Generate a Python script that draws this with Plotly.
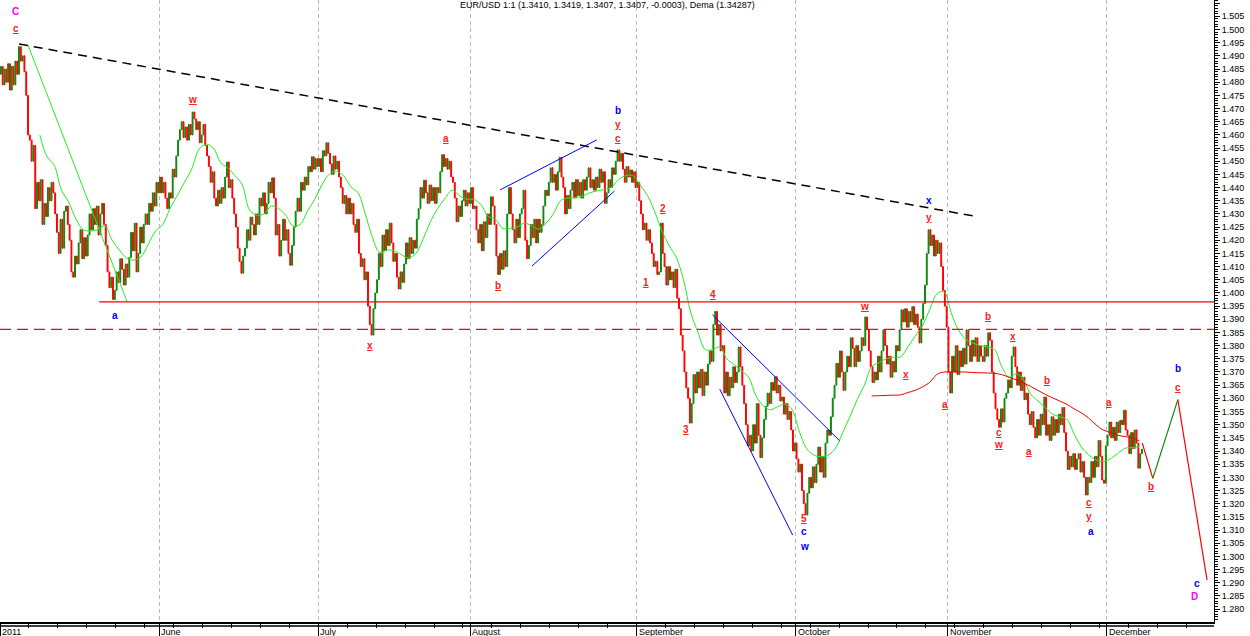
import pandas as pd
import plotly.graph_objects as go

# 6-hour closes, four per trading day
may_close = [1.4860, 1.4790, 1.4850, 1.4800, 1.4870, 1.4770, 1.4860, 1.4790,
             1.4880, 1.4830, 1.4935, 1.4880, 1.4900, 1.4840, 1.4750, 1.4600,
             1.4580, 1.4500, 1.4560, 1.4320, 1.4420, 1.4350, 1.4430, 1.4260,
             1.4340, 1.4290, 1.4400, 1.4350, 1.4420, 1.4380, 1.4300, 1.4230,
             1.4150, 1.4280, 1.4170, 1.4310, 1.4330, 1.4260, 1.4200, 1.4080,
             1.4060, 1.4140, 1.4110, 1.4190, 1.4240, 1.4130, 1.4210, 1.4140,
             1.4220, 1.4300, 1.4240, 1.4320, 1.4260, 1.4330, 1.4220, 1.4300,
             1.4340, 1.4260, 1.4180, 1.4080, 1.4020, 1.4060, 1.3975, 1.4010,
             1.4080, 1.4040, 1.4130, 1.4090, 1.4030, 1.4110, 1.4060, 1.4135,
             1.4230, 1.4160, 1.4265, 1.4080, 1.4150, 1.4250, 1.4190, 1.4260,
             1.4300, 1.4260, 1.4340, 1.4310, 1.4380, 1.4330, 1.4420, 1.4380]
jun_close = [1.4440, 1.4380, 1.4420, 1.4360, 1.4320, 1.4380, 1.4360, 1.4470,
             1.4440, 1.4520, 1.4580, 1.4620, 1.4650, 1.4590, 1.4630, 1.4580,
             1.4640, 1.4600, 1.4687, 1.4660, 1.4620, 1.4650, 1.4570, 1.4600,
             1.4640, 1.4560, 1.4520, 1.4480, 1.4420, 1.4460, 1.4360, 1.4330,
             1.4390, 1.4340, 1.4400, 1.4360, 1.4440, 1.4497, 1.4400, 1.4430,
             1.4360, 1.4300, 1.4250, 1.4170, 1.4120, 1.4075, 1.4140, 1.4170,
             1.4240, 1.4200, 1.4288, 1.4260, 1.4220, 1.4300, 1.4260, 1.4360,
             1.4330, 1.4380, 1.4300, 1.4340, 1.4420, 1.4380, 1.4437, 1.4360,
             1.4220, 1.4260, 1.4140, 1.4200, 1.4280, 1.4200, 1.4240, 1.4150,
             1.4105, 1.4180, 1.4250, 1.4310, 1.4360, 1.4310, 1.4420, 1.4390,
             1.4440, 1.4410, 1.4480, 1.4460, 1.4517, 1.4470, 1.4510, 1.4480]
jul_close = [1.4510, 1.4460, 1.4540, 1.4520, 1.4570, 1.4530, 1.4490, 1.4450,
             1.4520, 1.4470, 1.4500, 1.4440, 1.4400, 1.4340, 1.4370, 1.4300,
             1.4360, 1.4300, 1.4340, 1.4260, 1.4230, 1.4280, 1.4150, 1.4100,
             1.4130, 1.4050, 1.4080, 1.3950, 1.3880, 1.3840, 1.3940, 1.4000,
             1.4050, 1.4150, 1.4100, 1.4220, 1.4160, 1.4240, 1.4180, 1.4265,
             1.4190, 1.4120, 1.4150, 1.4060, 1.4015, 1.4080, 1.4040, 1.4110,
             1.4190, 1.4130, 1.4210, 1.4150, 1.4200, 1.4170, 1.4280, 1.4320,
             1.4400, 1.4360, 1.4428, 1.4380, 1.4340, 1.4410, 1.4350, 1.4400,
             1.4340, 1.4400, 1.4380, 1.4460, 1.4525, 1.4480, 1.4510, 1.4470,
             1.4500, 1.4440, 1.4420, 1.4360, 1.4270, 1.4330, 1.4290, 1.4350,
             1.4390, 1.4330, 1.4380, 1.4340]
aug_close = [1.4400, 1.4320, 1.4330, 1.4240, 1.4190, 1.4260, 1.4160, 1.4270,
             1.4210, 1.4300, 1.4260, 1.4365, 1.4330, 1.4260, 1.4140, 1.4070,
             1.4150, 1.4090, 1.4160, 1.4100, 1.4300, 1.4400, 1.4300, 1.4240,
             1.4190, 1.4280, 1.4210, 1.4300, 1.4320, 1.4390, 1.4200, 1.4130,
             1.4180, 1.4260, 1.4210, 1.4280, 1.4190, 1.4280, 1.4230, 1.4260,
             1.4330, 1.4390, 1.4370, 1.4420, 1.4475, 1.4420, 1.4450, 1.4390,
             1.4460, 1.4515, 1.4440, 1.4400, 1.4300, 1.4370, 1.4320, 1.4390,
             1.4420, 1.4360, 1.4430, 1.4370, 1.4420, 1.4360, 1.4430, 1.4390,
             1.4440, 1.4475, 1.4400, 1.4430, 1.4390, 1.4440, 1.4400, 1.4470,
             1.4420, 1.4460, 1.4340, 1.4380, 1.4430, 1.4400, 1.4475, 1.4450,
             1.4500, 1.4543, 1.4500, 1.4530, 1.4470, 1.4420, 1.4480, 1.4440,
             1.4467, 1.4420, 1.4460, 1.4400]
sep_close = [1.4420, 1.4350, 1.4300, 1.4240, 1.4265, 1.4200, 1.4240, 1.4190,
             1.4150, 1.4100, 1.4120, 1.4070, 1.4080, 1.4265, 1.4150, 1.4100,
             1.4030, 1.4100, 1.4050, 1.4080, 1.4020, 1.4090, 1.3980, 1.3940,
             1.3840, 1.3780, 1.3700, 1.3640, 1.3600, 1.3506, 1.3580, 1.3690,
             1.3620, 1.3700, 1.3640, 1.3710, 1.3610, 1.3700, 1.3650, 1.3730,
             1.3780, 1.3740, 1.3880, 1.3930, 1.3840, 1.3880, 1.3780, 1.3800,
             1.3620, 1.3700, 1.3610, 1.3680, 1.3640, 1.3720, 1.3660, 1.3700,
             1.3795, 1.3720, 1.3650, 1.3580, 1.3500, 1.3420, 1.3460, 1.3400,
             1.3500, 1.3430, 1.3580, 1.3460, 1.3375, 1.3450, 1.3520, 1.3570,
             1.3620, 1.3580, 1.3660, 1.3630, 1.3682, 1.3620, 1.3650, 1.3590,
             1.3605, 1.3540, 1.3580, 1.3520, 1.3550, 1.3480, 1.3400, 1.3430]
oct_close = [1.3370, 1.3320, 1.3350, 1.3250, 1.3200, 1.3157, 1.3240, 1.3300,
             1.3260, 1.3340, 1.3280, 1.3350, 1.3415, 1.3320, 1.3380, 1.3300,
             1.3430, 1.3480, 1.3460, 1.3530, 1.3600, 1.3650, 1.3733, 1.3680,
             1.3780, 1.3700, 1.3630, 1.3700, 1.3760, 1.3720, 1.3830, 1.3790,
             1.3720, 1.3800, 1.3740, 1.3780, 1.3830, 1.3800, 1.3909, 1.3860,
             1.3780, 1.3720, 1.3660, 1.3700, 1.3670, 1.3760, 1.3700, 1.3780,
             1.3860, 1.3800, 1.3730, 1.3760, 1.3680, 1.3740, 1.3700, 1.3800,
             1.3780, 1.3860, 1.3936, 1.3890, 1.3940, 1.3870, 1.3930, 1.3890,
             1.3948, 1.3880, 1.3920, 1.3870, 1.3810, 1.3900, 1.3960, 1.4030,
             1.4150, 1.4240, 1.4180, 1.4220, 1.4140, 1.4200, 1.4150, 1.4190,
             1.4100, 1.4010, 1.3950, 1.3870]
nov_close = [1.3700, 1.3620, 1.3760, 1.3700, 1.3800, 1.3690, 1.3780, 1.3720,
             1.3790, 1.3730, 1.3860, 1.3800, 1.3740, 1.3820, 1.3760, 1.3830,
             1.3740, 1.3800, 1.3760, 1.3740, 1.3800, 1.3760, 1.3849, 1.3820,
             1.3700, 1.3620, 1.3560, 1.3520, 1.3490, 1.3560, 1.3510, 1.3600,
             1.3620, 1.3670, 1.3640, 1.3760, 1.3795, 1.3720, 1.3650, 1.3700,
             1.3630, 1.3680, 1.3595, 1.3620, 1.3540, 1.3500, 1.3550, 1.3490,
             1.3450, 1.3520, 1.3460, 1.3540, 1.3500, 1.3605, 1.3460, 1.3500,
             1.3440, 1.3530, 1.3460, 1.3520, 1.3470, 1.3540, 1.3500, 1.3565,
             1.3470, 1.3400, 1.3330, 1.3380, 1.3340, 1.3390, 1.3330, 1.3370,
             1.3390, 1.3320, 1.3360, 1.3300, 1.3233, 1.3300, 1.3280, 1.3360,
             1.3300, 1.3380, 1.3340, 1.3440, 1.3380, 1.3290, 1.3278, 1.3420]
dec_close = [1.3460, 1.3510, 1.3450, 1.3490, 1.3440, 1.3510, 1.3470, 1.3517,
             1.3500, 1.3555, 1.3480, 1.3460, 1.3390, 1.3470, 1.3410, 1.3480,
             1.3430, 1.3335, 1.3390, 1.3407]
first_open = 1.4830

# Dema (green) per trading day, slow average (red) from 17 Oct
dema = [None] * 5 + [1.4600, 1.4517, 1.4485, 1.4390, 1.4345, 1.4280, 1.4240, 1.4235, 1.4240,
                     1.4255, 1.4200, 1.4163, 1.4133, 1.4125, 1.4137, 1.4185, 1.4235]
dema += [1.4260, 1.4320, 1.4370, 1.4420, 1.4470, 1.4545, 1.4565, 1.4550, 1.4495, 1.4475, 1.4445,
         1.4410, 1.4315, 1.4295, 1.4300, 1.4330, 1.4320, 1.4295, 1.4255, 1.4260, 1.4310, 1.4355]
dema += [1.4410, 1.4450, 1.4462, 1.4445, 1.4403, 1.4380, 1.4300, 1.4210, 1.4153, 1.4163, 1.4160,
         1.4145, 1.4133, 1.4150, 1.4205, 1.4270, 1.4320, 1.4358, 1.4390, 1.4370, 1.4356]
dema += [1.4355, 1.4335, 1.4290, 1.4280, 1.4245, 1.4245, 1.4250, 1.4265, 1.4255, 1.4242, 1.4265,
         1.4300, 1.4350, 1.4360, 1.4362, 1.4367, 1.4380, 1.4387, 1.4393, 1.4400, 1.4430, 1.4445, 1.4445]
dema += [1.4410, 1.4370, 1.4310, 1.4235, 1.4180, 1.4135, 1.4050, 1.3925, 1.3850, 1.3785, 1.3785,
         1.3795, 1.3750, 1.3728, 1.3705, 1.3680, 1.3610, 1.3572, 1.3557, 1.3568, 1.3578, 1.3557]
dema += [1.3475, 1.3410, 1.3385, 1.3378, 1.3385, 1.3410, 1.3470, 1.3530, 1.3595, 1.3650, 1.3720,
         1.3735, 1.3750, 1.3756, 1.3757, 1.3795, 1.3835, 1.3875, 1.3935, 1.3995, 1.4005]
dema += [1.3925, 1.3860, 1.3825, 1.3810, 1.3800, 1.3795, 1.3785, 1.3720, 1.3680, 1.3693, 1.3670,
         1.3615, 1.3590, 1.3565, 1.3540, 1.3530, 1.3520, 1.3465, 1.3415, 1.3385, 1.3367, 1.3360]
dema += [1.3370, 1.3390, 1.3410, 1.3413, 1.3416]
slow_ma_start = "2011-10-17"
slow_ma = [1.3609, 1.3610, 1.3611, 1.3612, 1.3613, 1.3622, 1.3630, 1.3643, 1.3660, 1.3690, 1.3700,
           1.3700, 1.3700, 1.3700, 1.3698, 1.3697, 1.3696, 1.3695, 1.3690, 1.3680, 1.3670, 1.3658,
           1.3645, 1.3630, 1.3615, 1.3602, 1.3590, 1.3577, 1.3560, 1.3545, 1.3525, 1.3500, 1.3480,
           1.3470, 1.3460, 1.3455, 1.3450, 1.3438]

# drawn lines
trend_x = ["2011-05-04 15:00", "2011-11-04 15:00"]
trend_y = [1.4945, 1.4292]
fan_x = ["2011-05-05 21:00", "2011-05-25 14:00"]
fan_y = [1.4941, 1.3966]
level_solid_x = ["2011-05-19 17:00", "2011-12-21 20:00"]
level_solid_y = [1.3966, 1.3966]
level_dash_x = ["2011-05-02 00:00", "2011-12-21 20:00"]
level_dash_y = [1.3862, 1.3862]
channel_lines = [
    (["2011-08-05 03:00", "2011-08-24 12:00"], [1.4391, 1.4581]),
    (["2011-08-11 13:00", "2011-08-26 23:00"], [1.4102, 1.4387]),
    (["2011-09-15 12:00", "2011-10-11 02:00"], [1.3917, 1.3439]),
    (["2011-09-16 12:00", "2011-09-30 14:00"], [1.3635, 1.3081]),
]
proj_x = ["2011-12-07 22:00", "2011-12-09 09:00", "2011-12-14 20:00", "2011-12-20 21:00"]
proj_y = [1.3430, 1.3296, 1.3595, 1.2910]

# wave labels: text, time, price, colour key
wave_text = ["C", "c", "a", "w", "x", "a", "b", "b", "y", "c", "1", "2", "3", "4", "5", "c", "w",
             "w", "x", "x", "y", "a", "b", "c", "w", "x", "a", "b", "c", "y", "a", "a", "b", "b",
             "c", "c", "D"]
wave_x = ["2011-05-04 05:00", "2011-05-04 05:00", "2011-05-23 22:00", "2011-06-07 14:00",
          "2011-07-12 05:00", "2011-07-26 17:00", "2011-08-04 21:00", "2011-08-29 10:00",
          "2011-08-29 10:00", "2011-08-29 10:00", "2011-09-02 06:00", "2011-09-06 15:00",
          "2011-09-09 21:00", "2011-09-15 15:00", "2011-10-04 05:00", "2011-10-04 05:00",
          "2011-10-04 05:00", "2011-10-14 12:00", "2011-10-24 05:00", "2011-10-27 10:00",
          "2011-10-27 10:00", "2011-10-31 17:00", "2011-11-08 14:00", "2011-11-10 02:00",
          "2011-11-10 02:00", "2011-11-14 02:00", "2011-11-16 07:00", "2011-11-18 17:00",
          "2011-11-28 12:00", "2011-11-28 12:00", "2011-11-28 19:00", "2011-12-01 07:00",
          "2011-12-09 02:00", "2011-12-14 20:00", "2011-12-14 20:00", "2011-12-19 12:00",
          "2011-12-19 03:00"]
wave_y = [1.5067, 1.5002, 1.3913, 1.4733, 1.3799, 1.4588, 1.4027, 1.4694, 1.4641, 1.4588,
          1.4038, 1.4319, 1.3480, 1.3993, 1.3145, 1.3096, 1.3039, 1.3947, 1.3689, 1.4350,
          1.4285, 1.3575, 1.3909, 1.3472, 1.3423, 1.3833, 1.3400, 1.3666, 1.3206, 1.3153,
          1.3096, 1.3586, 1.3267, 1.3712, 1.3643, 1.2899, 1.2849]
wave_col = ["m", "r", "b", "r", "r", "r", "r", "b", "r", "r", "r", "r", "r", "r", "r", "b", "b",
            "r", "r", "b", "r", "r", "r", "r", "r", "r", "r", "r", "r", "r", "b", "r", "r", "b",
            "r", "b", "m"]

month_dates = ["2011-05-02", "2011-06-01", "2011-07-01", "2011-08-01", "2011-09-01",
               "2011-10-03", "2011-11-01", "2011-12-01"]
month_names = ["2011", "June", "July", "August", "September", "October", "November", "December"]

title_text = "EUR/USD 1:1 (1.3410, 1.3419, 1.3407, 1.3407, -0.0003), Dema (1.34287)"

GREEN = "#0a8a0a"
RED = "#ff0000"
FONT = "Arial, Liberation Sans, sans-serif"

# build bars
days = pd.bdate_range("2011-05-02", "2011-12-07")
bar_times = [d + pd.Timedelta(hours=h) for d in days for h in (3, 9, 15, 21)]
closes = may_close + jun_close + jul_close + aug_close + sep_close + oct_close + nov_close + dec_close
opens = [first_open] + closes[:-1]
highs = [max(o, c) for o, c in zip(opens, closes)]
lows = [min(o, c) for o, c in zip(opens, closes)]

fig = go.Figure()

fig.add_trace(go.Candlestick(
    x=bar_times, open=opens, high=highs, low=lows, close=closes,
    increasing=dict(line=dict(color=GREEN, width=1), fillcolor=GREEN),
    decreasing=dict(line=dict(color=RED, width=1), fillcolor=RED),
    whiskerwidth=0, hoverinfo="skip",
))

day_noon = [d + pd.Timedelta(hours=12) for d in days]
fig.add_trace(go.Scatter(x=day_noon, y=dema, mode="lines", line=dict(color="#22ee22", width=1, shape="spline")))
slow_days = [t for t in day_noon if t >= pd.Timestamp(slow_ma_start)]
fig.add_trace(go.Scatter(x=slow_days, y=slow_ma, mode="lines", line=dict(color="#ee0000", width=1, shape="spline")))
fig.add_trace(go.Scatter(x=fan_x, y=fan_y, mode="lines", line=dict(color="#22ee22", width=1)))

fig.add_trace(go.Scatter(x=trend_x, y=trend_y, mode="lines",
                         line=dict(color="black", width=1.5, dash="9px,6px")))
fig.add_trace(go.Scatter(x=level_solid_x, y=level_solid_y, mode="lines", line=dict(color=RED, width=1.3)))
fig.add_trace(go.Scatter(x=level_dash_x, y=level_dash_y, mode="lines",
                         line=dict(color=RED, width=1.3, dash="11px,6px")))
for cx, cy in channel_lines:
    fig.add_trace(go.Scatter(x=cx, y=cy, mode="lines", line=dict(color="#0000ff", width=1)))

# projected path: down red, up green, down red
for i in range(len(proj_x) - 1):
    col = GREEN if proj_y[i + 1] > proj_y[i] else RED
    fig.add_trace(go.Scatter(x=proj_x[i:i + 2], y=proj_y[i:i + 2], mode="lines",
                             line=dict(color=col, width=1.2)))

colours = {"r": "#ff2020", "b": "#0000ff", "m": "#ff00ff"}
for t, x, y, c in zip(wave_text, wave_x, wave_y, wave_col):
    fig.add_annotation(x=x, y=y, text=t, showarrow=False, xanchor="center", yanchor="middle",
                       font=dict(family=FONT, size=10, color=colours[c], weight="bold",
                                 lineposition="under" if c == "r" else "none"))

for d, name in zip(month_dates, month_names):
    fig.add_annotation(x=d, y=0, xref="x", yref="paper", yshift=-3, text=name, showarrow=False,
                       xanchor="left", yanchor="top", xshift=0,
                       font=dict(family=FONT, size=9, color="black"))

fig.add_annotation(x=0.5, y=1, xref="paper", yref="paper", text=title_text, showarrow=False,
                   xanchor="center", yanchor="top", yshift=2, font=dict(family=FONT, size=9, color="black"))

# second rule of the time axis band
fig.add_shape(type="line", xref="paper", yref="paper", x0=0, x1=1, y0=-0.0065, y1=-0.0065,
              line=dict(color="black", width=1.5))

fig.update_layout(
    width=1250, height=636,
    margin=dict(l=0, r=36, t=0, b=14, autoexpand=False),
    plot_bgcolor="white", paper_bgcolor="white",
    showlegend=False, hovermode=False,
    xaxis=dict(
        type="date", range=["2011-05-02 00:00", "2011-12-21 20:00"],
        rangebreaks=[dict(bounds=["sat", "mon"])],
        rangeslider=dict(visible=False),
        tickvals=month_dates, showticklabels=False,
        ticks="outside", ticklen=14, tickcolor="black",
        showgrid=True, gridcolor="#b8b8b8", griddash="4px,3px", gridwidth=1,
        showline=True, linecolor="black", linewidth=1.5, zeroline=False,
        minor=dict(tickvals=list(pd.bdate_range("2011-05-02", "2011-12-21", freq="4B")),
                   ticks="outside", ticklen=4, tickcolor="black", showgrid=False),
    ),
    yaxis=dict(
        side="right", range=[1.2751, 1.5112],
        tick0=1.28, dtick=0.005, tickformat=".3f",
        ticks="outside", ticklen=5, tickcolor="black",
        showline=True, linecolor="black", linewidth=1, showgrid=False, zeroline=False,
        tickfont=dict(family=FONT, size=9, color="black"),
        minor=dict(dtick=0.001, ticks="outside", ticklen=3, tickcolor="black"),
    ),
)

# the page body has a default 8px margin; drop it so the figure fills the window
fig.write_html("out.html", config={"displayModeBar": False},
               post_script="document.body.style.margin='0px';")
